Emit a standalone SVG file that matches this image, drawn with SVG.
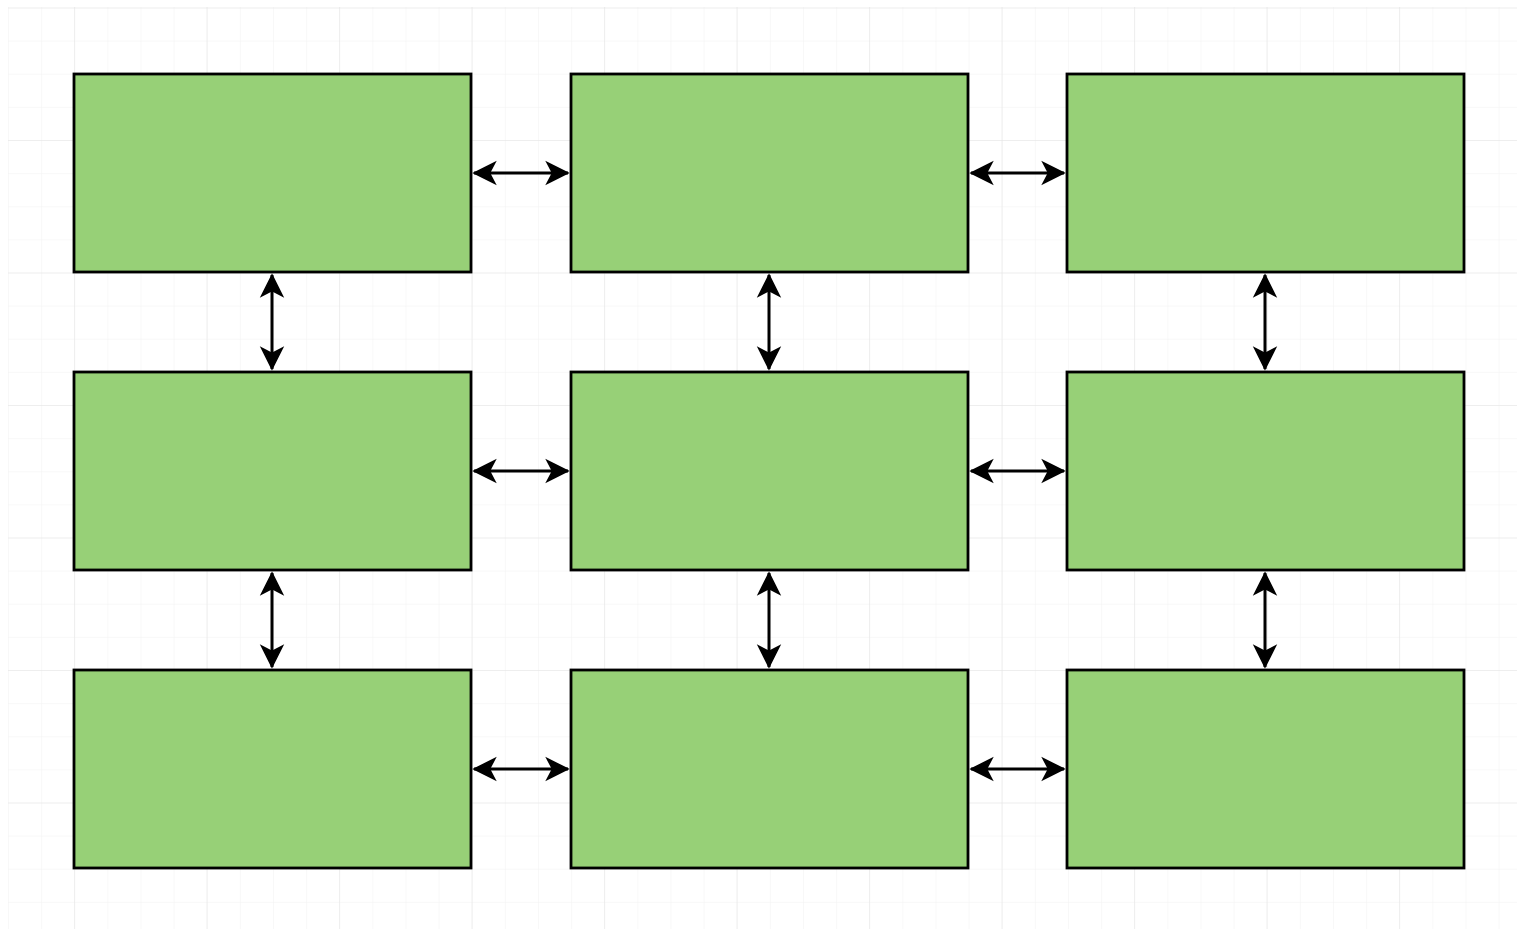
<svg xmlns="http://www.w3.org/2000/svg" width="1517" height="929" viewBox="0 0 1517 929">
<style>
.node{fill:#97D077;stroke:#000;stroke-width:2.8}
.conn{stroke:#000;stroke-width:3;fill:none;marker-start:url(#arr);marker-end:url(#arr)}
</style>
<defs>
<pattern id="minor" patternUnits="userSpaceOnUse" x="8" y="7.5" width="33.125" height="33.125">
<path d="M0 0H33.125M0 0V33.125" stroke="#f2f2f2" stroke-width="1" fill="none"/>
</pattern>
<pattern id="major" patternUnits="userSpaceOnUse" x="74" y="7.5" width="132.5" height="132.5">
<path d="M0 0H132.5M0 0V132.5" stroke="#e4e4e4" stroke-width="1" fill="none"/>
</pattern>
<marker id="arr" markerUnits="userSpaceOnUse" viewBox="-24 -13 26 26" refX="0" refY="0" markerWidth="26" markerHeight="26" orient="auto-start-reverse">
<path d="M0 0L-21 -10.5L-15.5 0L-21 10.5Z" fill="#000" stroke="#000" stroke-width="1.5" stroke-linejoin="miter"/>
</marker>
</defs>
<rect width="1517" height="929" fill="#fff"/>
<rect x="8" y="7" width="1509" height="922" fill="url(#minor)"/>
<rect x="8" y="7" width="1509" height="922" fill="url(#major)"/>
<g id="connectors">
<line class="conn" x1="474" y1="173" x2="568" y2="173"/>
<line class="conn" x1="971" y1="173" x2="1064" y2="173"/>
<line class="conn" x1="474" y1="471" x2="568" y2="471"/>
<line class="conn" x1="971" y1="471" x2="1064" y2="471"/>
<line class="conn" x1="474" y1="769" x2="568" y2="769"/>
<line class="conn" x1="971" y1="769" x2="1064" y2="769"/>
<line class="conn" x1="272" y1="275" x2="272" y2="369"/>
<line class="conn" x1="769" y1="275" x2="769" y2="369"/>
<line class="conn" x1="1265" y1="275" x2="1265" y2="369"/>
<line class="conn" x1="272" y1="573" x2="272" y2="667"/>
<line class="conn" x1="769" y1="573" x2="769" y2="667"/>
<line class="conn" x1="1265" y1="573" x2="1265" y2="667"/>
</g>
<g id="n11"><rect class="node" x="74" y="74" width="397" height="198"/></g>
<g id="n12"><rect class="node" x="571" y="74" width="397" height="198"/></g>
<g id="n13"><rect class="node" x="1067" y="74" width="397" height="198"/></g>
<g id="n21"><rect class="node" x="74" y="372" width="397" height="198"/></g>
<g id="n22"><rect class="node" x="571" y="372" width="397" height="198"/></g>
<g id="n23"><rect class="node" x="1067" y="372" width="397" height="198"/></g>
<g id="n31"><rect class="node" x="74" y="670" width="397" height="198"/></g>
<g id="n32"><rect class="node" x="571" y="670" width="397" height="198"/></g>
<g id="n33"><rect class="node" x="1067" y="670" width="397" height="198"/></g>
</svg>
